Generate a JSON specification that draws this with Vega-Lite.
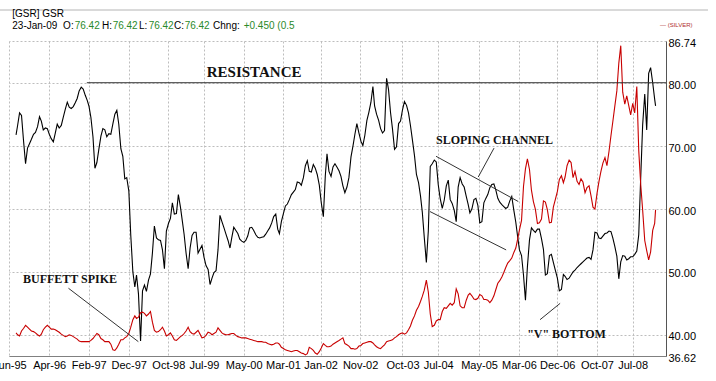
{
  "$schema": "https://vega.github.io/schema/vega-lite/v6.json",
  "width": 657,
  "height": 315,
  "autosize": {"type": "none"},
  "padding": {"left": 9, "top": 41, "right": 50, "bottom": 25},
  "background": "#ffffff",
  "config": {
    "view": {"stroke": null},
    "font": "Liberation Sans",
    "axis": {"labelFont": "Liberation Sans", "labelFontSize": 11, "labelColor": "#000000"}
  },
  "resolve": {"axis": {"x": "independent", "y": "independent"}},
  "datasets": {
    "series": [
      {"date":"1995-08-20","gsr":71.8,"silver":40.3},
      {"date":"1995-09-01","gsr":73.3,"silver":40.0},
      {"date":"1995-09-16","gsr":75.3,"silver":39.8},
      {"date":"1995-10-01","gsr":74.9,"silver":40.6},
      {"date":"1995-10-16","gsr":71.0,"silver":41.0},
      {"date":"1995-11-01","gsr":67.2,"silver":41.5},
      {"date":"1995-11-16","gsr":69.7,"silver":41.2},
      {"date":"1995-12-01","gsr":70.4,"silver":40.9},
      {"date":"1995-12-16","gsr":71.1,"silver":40.6},
      {"date":"1996-01-01","gsr":71.9,"silver":40.5},
      {"date":"1996-01-16","gsr":72.2,"silver":40.3},
      {"date":"1996-02-01","gsr":73.1,"silver":40.0},
      {"date":"1996-02-16","gsr":74.7,"silver":39.8},
      {"date":"1996-03-01","gsr":74.0,"silver":40.1},
      {"date":"1996-03-16","gsr":72.6,"silver":40.8},
      {"date":"1996-04-01","gsr":72.9,"silver":41.2},
      {"date":"1996-04-16","gsr":72.8,"silver":41.5},
      {"date":"1996-05-01","gsr":71.9,"silver":41.2},
      {"date":"1996-05-16","gsr":71.2,"silver":40.9},
      {"date":"1996-06-01","gsr":70.7,"silver":40.9},
      {"date":"1996-06-16","gsr":72.1,"silver":40.8},
      {"date":"1996-07-01","gsr":73.5,"silver":40.6},
      {"date":"1996-07-16","gsr":72.9,"silver":40.4},
      {"date":"1996-08-01","gsr":73.3,"silver":40.1},
      {"date":"1996-08-16","gsr":74.6,"silver":39.9},
      {"date":"1996-09-01","gsr":75.9,"silver":39.7},
      {"date":"1996-09-16","gsr":77.0,"silver":39.8},
      {"date":"1996-10-01","gsr":76.2,"silver":40.0},
      {"date":"1996-10-16","gsr":76.0,"silver":39.9},
      {"date":"1996-11-01","gsr":76.3,"silver":39.7},
      {"date":"1996-11-16","gsr":76.9,"silver":39.5},
      {"date":"1996-12-01","gsr":77.6,"silver":39.3},
      {"date":"1996-12-16","gsr":78.8,"silver":39.0},
      {"date":"1997-01-01","gsr":79.4,"silver":38.9},
      {"date":"1997-01-16","gsr":79.1,"silver":38.9},
      {"date":"1997-02-01","gsr":78.1,"silver":38.9},
      {"date":"1997-02-16","gsr":77.3,"silver":38.9},
      {"date":"1997-03-01","gsr":76.4,"silver":38.9},
      {"date":"1997-03-16","gsr":74.6,"silver":39.1},
      {"date":"1997-04-01","gsr":71.5,"silver":39.4},
      {"date":"1997-04-16","gsr":66.5,"silver":39.8},
      {"date":"1997-05-01","gsr":67.4,"silver":40.2},
      {"date":"1997-05-16","gsr":69.5,"silver":40.0},
      {"date":"1997-06-01","gsr":71.6,"silver":39.4},
      {"date":"1997-06-16","gsr":72.8,"silver":39.2},
      {"date":"1997-07-01","gsr":72.6,"silver":38.9},
      {"date":"1997-07-16","gsr":71.5,"silver":38.9},
      {"date":"1997-08-01","gsr":72.0,"silver":38.9},
      {"date":"1997-08-16","gsr":71.9,"silver":38.5},
      {"date":"1997-09-01","gsr":73.6,"silver":37.6},
      {"date":"1997-09-16","gsr":75.1,"silver":37.5},
      {"date":"1997-10-01","gsr":75.7,"silver":37.9},
      {"date":"1997-10-16","gsr":73.5,"silver":38.5},
      {"date":"1997-11-01","gsr":69.6,"silver":39.2},
      {"date":"1997-11-16","gsr":68.4,"silver":39.2},
      {"date":"1997-12-01","gsr":64.8,"silver":39.5},
      {"date":"1997-12-16","gsr":65.0,"silver":39.7},
      {"date":"1998-01-01","gsr":62.9,"silver":40.2},
      {"date":"1998-01-16","gsr":55.8,"silver":41.2},
      {"date":"1998-02-01","gsr":50.0,"silver":42.4},
      {"date":"1998-02-16","gsr":47.6,"silver":43.0},
      {"date":"1998-03-01","gsr":49.5,"silver":42.6},
      {"date":"1998-03-16","gsr":46.5,"silver":42.8},
      {"date":"1998-04-01","gsr":39.0,"silver":43.5},
      {"date":"1998-04-16","gsr":47.0,"silver":43.6},
      {"date":"1998-05-01","gsr":47.9,"silver":43.4},
      {"date":"1998-05-16","gsr":46.9,"silver":43.0},
      {"date":"1998-06-01","gsr":48.7,"silver":43.3},
      {"date":"1998-06-16","gsr":49.7,"silver":43.7},
      {"date":"1998-07-01","gsr":53.0,"silver":42.0},
      {"date":"1998-07-16","gsr":57.3,"silver":40.7},
      {"date":"1998-08-01","gsr":55.4,"silver":40.4},
      {"date":"1998-08-16","gsr":55.1,"silver":40.5},
      {"date":"1998-09-01","gsr":55.0,"silver":40.8},
      {"date":"1998-09-16","gsr":53.5,"silver":41.2},
      {"date":"1998-10-01","gsr":50.5,"silver":40.6},
      {"date":"1998-10-16","gsr":56.5,"silver":39.8},
      {"date":"1998-11-01","gsr":57.7,"silver":40.0},
      {"date":"1998-11-16","gsr":58.5,"silver":40.3},
      {"date":"1998-12-01","gsr":61.0,"silver":39.8},
      {"date":"1998-12-16","gsr":59.2,"silver":39.2},
      {"date":"1999-01-01","gsr":59.3,"silver":39.1},
      {"date":"1999-01-16","gsr":62.3,"silver":39.4},
      {"date":"1999-02-01","gsr":60.3,"silver":39.7},
      {"date":"1999-02-16","gsr":58.0,"silver":39.9},
      {"date":"1999-03-01","gsr":56.0,"silver":40.2},
      {"date":"1999-03-16","gsr":53.0,"silver":40.6},
      {"date":"1999-04-01","gsr":50.5,"silver":41.2},
      {"date":"1999-04-16","gsr":53.8,"silver":40.5},
      {"date":"1999-05-01","gsr":55.8,"silver":40.2},
      {"date":"1999-05-16","gsr":56.3,"silver":40.1},
      {"date":"1999-06-01","gsr":56.3,"silver":40.4},
      {"date":"1999-06-16","gsr":53.0,"silver":40.7},
      {"date":"1999-07-01","gsr":53.6,"silver":40.1},
      {"date":"1999-07-16","gsr":54.2,"silver":39.5},
      {"date":"1999-08-01","gsr":52.3,"silver":39.6},
      {"date":"1999-08-16","gsr":51.0,"silver":39.9},
      {"date":"1999-09-01","gsr":50.4,"silver":40.4},
      {"date":"1999-09-16","gsr":48.0,"silver":40.3},
      {"date":"1999-10-01","gsr":49.0,"silver":40.0},
      {"date":"1999-10-16","gsr":49.9,"silver":40.2},
      {"date":"1999-11-01","gsr":50.2,"silver":40.4},
      {"date":"1999-11-16","gsr":53.5,"silver":41.1},
      {"date":"1999-12-01","gsr":59.0,"silver":40.7},
      {"date":"1999-12-16","gsr":58.0,"silver":40.3},
      {"date":"2000-01-01","gsr":57.0,"silver":40.1},
      {"date":"2000-01-16","gsr":56.0,"silver":40.0},
      {"date":"2000-02-01","gsr":55.0,"silver":40.0},
      {"date":"2000-02-16","gsr":53.8,"silver":40.1},
      {"date":"2000-03-01","gsr":55.5,"silver":40.2},
      {"date":"2000-03-16","gsr":57.1,"silver":40.2},
      {"date":"2000-04-01","gsr":56.6,"silver":39.9},
      {"date":"2000-04-16","gsr":56.1,"silver":39.7},
      {"date":"2000-05-01","gsr":55.2,"silver":39.6},
      {"date":"2000-05-16","gsr":54.9,"silver":39.5},
      {"date":"2000-06-01","gsr":54.7,"silver":39.5},
      {"date":"2000-06-16","gsr":55.0,"silver":39.5},
      {"date":"2000-07-01","gsr":55.7,"silver":39.4},
      {"date":"2000-07-16","gsr":57.0,"silver":39.3},
      {"date":"2000-08-01","gsr":57.1,"silver":39.2},
      {"date":"2000-08-16","gsr":56.6,"silver":39.1},
      {"date":"2000-09-01","gsr":55.9,"silver":39.0},
      {"date":"2000-09-16","gsr":55.5,"silver":38.9},
      {"date":"2000-10-01","gsr":55.4,"silver":38.9},
      {"date":"2000-10-16","gsr":55.5,"silver":38.9},
      {"date":"2000-11-01","gsr":55.6,"silver":38.8},
      {"date":"2000-11-16","gsr":56.0,"silver":38.8},
      {"date":"2000-12-01","gsr":56.5,"silver":38.6},
      {"date":"2000-12-16","gsr":57.0,"silver":38.5},
      {"date":"2001-01-01","gsr":57.8,"silver":38.4},
      {"date":"2001-01-16","gsr":58.8,"silver":38.5},
      {"date":"2001-02-01","gsr":59.2,"silver":38.7},
      {"date":"2001-02-16","gsr":56.8,"silver":38.7},
      {"date":"2001-03-01","gsr":56.1,"silver":38.5},
      {"date":"2001-03-16","gsr":58.0,"silver":38.0},
      {"date":"2001-04-01","gsr":59.3,"silver":37.8},
      {"date":"2001-04-16","gsr":60.5,"silver":37.6},
      {"date":"2001-05-01","gsr":60.8,"silver":37.5},
      {"date":"2001-05-16","gsr":61.5,"silver":37.4},
      {"date":"2001-06-01","gsr":62.3,"silver":37.3},
      {"date":"2001-06-16","gsr":62.7,"silver":37.4},
      {"date":"2001-07-01","gsr":63.1,"silver":37.5},
      {"date":"2001-07-16","gsr":64.3,"silver":37.5},
      {"date":"2001-08-01","gsr":64.2,"silver":37.3},
      {"date":"2001-08-16","gsr":63.8,"silver":37.1},
      {"date":"2001-09-01","gsr":65.0,"silver":37.0},
      {"date":"2001-09-16","gsr":66.9,"silver":36.8},
      {"date":"2001-10-01","gsr":67.7,"silver":37.0},
      {"date":"2001-10-16","gsr":66.0,"silver":38.0},
      {"date":"2001-11-01","gsr":65.9,"silver":37.8},
      {"date":"2001-11-16","gsr":67.1,"silver":37.5},
      {"date":"2001-12-01","gsr":66.5,"silver":37.1},
      {"date":"2001-12-16","gsr":65.5,"silver":36.9},
      {"date":"2002-01-01","gsr":63.8,"silver":37.3},
      {"date":"2002-01-16","gsr":61.0,"silver":37.9},
      {"date":"2002-02-01","gsr":58.8,"silver":38.6},
      {"date":"2002-02-16","gsr":65.3,"silver":38.3},
      {"date":"2002-03-01","gsr":68.8,"silver":38.1},
      {"date":"2002-03-16","gsr":66.0,"silver":38.1},
      {"date":"2002-04-01","gsr":65.2,"silver":38.2},
      {"date":"2002-04-16","gsr":66.7,"silver":38.5},
      {"date":"2002-05-01","gsr":67.2,"silver":38.7},
      {"date":"2002-05-16","gsr":66.7,"silver":38.9},
      {"date":"2002-06-01","gsr":66.1,"silver":39.1},
      {"date":"2002-06-16","gsr":65.2,"silver":39.3},
      {"date":"2002-07-01","gsr":63.7,"silver":39.5},
      {"date":"2002-07-16","gsr":62.6,"silver":38.6},
      {"date":"2002-08-01","gsr":63.5,"silver":38.4},
      {"date":"2002-08-16","gsr":65.0,"silver":38.2},
      {"date":"2002-09-01","gsr":68.3,"silver":37.8},
      {"date":"2002-09-16","gsr":70.0,"silver":37.8},
      {"date":"2002-10-01","gsr":71.9,"silver":37.7},
      {"date":"2002-10-16","gsr":73.6,"silver":37.8},
      {"date":"2002-11-01","gsr":72.1,"silver":38.2},
      {"date":"2002-11-16","gsr":70.8,"silver":38.3},
      {"date":"2002-12-01","gsr":70.1,"silver":38.6},
      {"date":"2002-12-16","gsr":71.7,"silver":38.7},
      {"date":"2003-01-01","gsr":74.1,"silver":38.8},
      {"date":"2003-01-16","gsr":75.4,"silver":38.9},
      {"date":"2003-02-01","gsr":77.0,"silver":38.9},
      {"date":"2003-02-16","gsr":79.5,"silver":38.7},
      {"date":"2003-03-01","gsr":76.4,"silver":38.4},
      {"date":"2003-03-16","gsr":75.1,"silver":38.1},
      {"date":"2003-04-01","gsr":74.1,"silver":37.9},
      {"date":"2003-04-16","gsr":72.8,"silver":37.8},
      {"date":"2003-05-01","gsr":72.1,"silver":38.1},
      {"date":"2003-05-16","gsr":72.5,"silver":38.4},
      {"date":"2003-06-01","gsr":80.8,"silver":38.9},
      {"date":"2003-06-16","gsr":79.0,"silver":39.0},
      {"date":"2003-07-01","gsr":75.4,"silver":39.1},
      {"date":"2003-07-16","gsr":72.8,"silver":39.2},
      {"date":"2003-08-01","gsr":69.5,"silver":39.5},
      {"date":"2003-08-16","gsr":69.9,"silver":39.7},
      {"date":"2003-09-01","gsr":73.6,"silver":40.0},
      {"date":"2003-09-16","gsr":74.0,"silver":40.2},
      {"date":"2003-10-01","gsr":75.8,"silver":40.3},
      {"date":"2003-10-16","gsr":77.1,"silver":40.1},
      {"date":"2003-11-01","gsr":76.5,"silver":40.3},
      {"date":"2003-11-16","gsr":75.3,"silver":40.8},
      {"date":"2003-12-01","gsr":73.3,"silver":41.4},
      {"date":"2003-12-16","gsr":71.0,"silver":42.3},
      {"date":"2004-01-01","gsr":68.5,"silver":43.0},
      {"date":"2004-01-16","gsr":65.5,"silver":43.9},
      {"date":"2004-02-01","gsr":64.2,"silver":44.5},
      {"date":"2004-02-16","gsr":62.1,"silver":45.3},
      {"date":"2004-03-01","gsr":59.5,"silver":46.1},
      {"date":"2004-03-16","gsr":55.5,"silver":47.1},
      {"date":"2004-04-01","gsr":51.5,"silver":48.7},
      {"date":"2004-04-16","gsr":56.5,"silver":46.8},
      {"date":"2004-05-01","gsr":66.8,"silver":43.3},
      {"date":"2004-05-16","gsr":67.2,"silver":41.3},
      {"date":"2004-06-01","gsr":67.8,"silver":41.5},
      {"date":"2004-06-16","gsr":67.5,"silver":42.2},
      {"date":"2004-07-01","gsr":63.9,"silver":42.4},
      {"date":"2004-07-16","gsr":61.7,"silver":42.4},
      {"date":"2004-08-01","gsr":60.1,"silver":43.7},
      {"date":"2004-08-16","gsr":61.4,"silver":44.3},
      {"date":"2004-09-01","gsr":63.7,"silver":44.2},
      {"date":"2004-09-16","gsr":64.6,"silver":44.6},
      {"date":"2004-10-01","gsr":61.5,"silver":45.0},
      {"date":"2004-10-16","gsr":60.9,"silver":44.7},
      {"date":"2004-11-01","gsr":59.8,"silver":45.1},
      {"date":"2004-11-16","gsr":58.0,"silver":47.3},
      {"date":"2004-12-01","gsr":63.5,"silver":46.5},
      {"date":"2004-12-16","gsr":65.0,"silver":44.6},
      {"date":"2005-01-01","gsr":64.0,"silver":44.3},
      {"date":"2005-01-16","gsr":63.5,"silver":44.3},
      {"date":"2005-02-01","gsr":62.0,"silver":45.5},
      {"date":"2005-02-16","gsr":60.7,"silver":46.3},
      {"date":"2005-03-01","gsr":59.4,"silver":46.6},
      {"date":"2005-03-16","gsr":60.0,"silver":46.2},
      {"date":"2005-04-01","gsr":61.5,"silver":45.7},
      {"date":"2005-04-16","gsr":61.7,"silver":45.6},
      {"date":"2005-05-01","gsr":60.6,"silver":45.8},
      {"date":"2005-05-16","gsr":57.8,"silver":46.4},
      {"date":"2005-06-01","gsr":58.0,"silver":46.2},
      {"date":"2005-06-16","gsr":61.0,"silver":45.6},
      {"date":"2005-07-01","gsr":61.7,"silver":45.6},
      {"date":"2005-07-16","gsr":62.3,"silver":45.5},
      {"date":"2005-08-01","gsr":63.4,"silver":45.1},
      {"date":"2005-08-16","gsr":63.9,"silver":45.5},
      {"date":"2005-09-01","gsr":64.0,"silver":46.2},
      {"date":"2005-09-16","gsr":63.0,"silver":47.2},
      {"date":"2005-10-01","gsr":61.7,"silver":48.2},
      {"date":"2005-10-16","gsr":61.1,"silver":48.6},
      {"date":"2005-11-01","gsr":60.7,"silver":49.2},
      {"date":"2005-11-16","gsr":60.4,"silver":49.9},
      {"date":"2005-12-01","gsr":60.1,"silver":50.7},
      {"date":"2005-12-16","gsr":60.3,"silver":51.4},
      {"date":"2006-01-01","gsr":61.3,"silver":51.8},
      {"date":"2006-01-16","gsr":62.0,"silver":52.2},
      {"date":"2006-02-01","gsr":59.8,"silver":53.1},
      {"date":"2006-02-16","gsr":57.9,"silver":53.8},
      {"date":"2006-03-01","gsr":55.8,"silver":55.1},
      {"date":"2006-03-16","gsr":53.5,"silver":56.7},
      {"date":"2006-04-01","gsr":52.6,"silver":58.2},
      {"date":"2006-04-16","gsr":49.5,"silver":63.6},
      {"date":"2006-05-01","gsr":45.5,"silver":66.4},
      {"date":"2006-05-16","gsr":50.8,"silver":68.0},
      {"date":"2006-06-01","gsr":55.1,"silver":66.3},
      {"date":"2006-06-16","gsr":57.0,"silver":63.0},
      {"date":"2006-07-01","gsr":56.6,"silver":61.2},
      {"date":"2006-07-16","gsr":56.3,"silver":60.0},
      {"date":"2006-08-01","gsr":56.8,"silver":57.7},
      {"date":"2006-08-16","gsr":56.8,"silver":57.8},
      {"date":"2006-09-01","gsr":55.3,"silver":58.4},
      {"date":"2006-09-16","gsr":53.6,"silver":61.3},
      {"date":"2006-10-01","gsr":49.5,"silver":61.1},
      {"date":"2006-10-16","gsr":49.7,"silver":59.9},
      {"date":"2006-11-01","gsr":52.6,"silver":57.8},
      {"date":"2006-11-16","gsr":52.8,"silver":57.9},
      {"date":"2006-12-01","gsr":51.5,"silver":60.3},
      {"date":"2006-12-16","gsr":50.3,"silver":61.5},
      {"date":"2007-01-01","gsr":49.0,"silver":62.8},
      {"date":"2007-01-16","gsr":47.0,"silver":64.7},
      {"date":"2007-02-01","gsr":47.2,"silver":65.3},
      {"date":"2007-02-16","gsr":49.6,"silver":64.2},
      {"date":"2007-03-01","gsr":49.3,"silver":65.1},
      {"date":"2007-03-16","gsr":48.8,"silver":66.9},
      {"date":"2007-04-01","gsr":49.0,"silver":67.8},
      {"date":"2007-04-16","gsr":49.5,"silver":67.4},
      {"date":"2007-05-01","gsr":50.0,"silver":65.0},
      {"date":"2007-05-16","gsr":50.3,"silver":66.0},
      {"date":"2007-06-01","gsr":50.7,"silver":64.4},
      {"date":"2007-06-16","gsr":51.0,"silver":63.9},
      {"date":"2007-07-01","gsr":51.3,"silver":64.8},
      {"date":"2007-07-16","gsr":51.6,"silver":64.3},
      {"date":"2007-08-01","gsr":51.9,"silver":62.6},
      {"date":"2007-08-16","gsr":52.2,"silver":63.4},
      {"date":"2007-09-01","gsr":52.3,"silver":63.7},
      {"date":"2007-09-16","gsr":52.0,"silver":62.1},
      {"date":"2007-10-01","gsr":53.5,"silver":60.3},
      {"date":"2007-10-16","gsr":56.3,"silver":60.0},
      {"date":"2007-11-01","gsr":56.2,"silver":62.5},
      {"date":"2007-11-16","gsr":55.4,"silver":64.4},
      {"date":"2007-12-01","gsr":55.3,"silver":66.0},
      {"date":"2007-12-16","gsr":55.7,"silver":67.3},
      {"date":"2008-01-01","gsr":56.1,"silver":68.2},
      {"date":"2008-01-16","gsr":56.2,"silver":66.9},
      {"date":"2008-02-01","gsr":56.5,"silver":69.2},
      {"date":"2008-02-16","gsr":56.4,"silver":71.7},
      {"date":"2008-03-01","gsr":55.4,"silver":73.9},
      {"date":"2008-03-16","gsr":54.1,"silver":76.3},
      {"date":"2008-04-01","gsr":52.5,"silver":78.8},
      {"date":"2008-04-16","gsr":48.9,"silver":83.2},
      {"date":"2008-05-01","gsr":51.6,"silver":86.0},
      {"date":"2008-05-16","gsr":52.6,"silver":78.6},
      {"date":"2008-06-01","gsr":52.5,"silver":76.7},
      {"date":"2008-06-16","gsr":51.9,"silver":78.0},
      {"date":"2008-07-01","gsr":52.1,"silver":76.5},
      {"date":"2008-07-16","gsr":52.4,"silver":75.0},
      {"date":"2008-08-01","gsr":52.4,"silver":76.8},
      {"date":"2008-08-16","gsr":52.8,"silver":75.3},
      {"date":"2008-09-01","gsr":53.3,"silver":79.5},
      {"date":"2008-09-16","gsr":55.9,"silver":69.3},
      {"date":"2008-10-01","gsr":65.0,"silver":63.9},
      {"date":"2008-10-16","gsr":73.4,"silver":59.8},
      {"date":"2008-11-01","gsr":78.3,"silver":55.0},
      {"date":"2008-11-16","gsr":72.6,"silver":53.4},
      {"date":"2008-12-01","gsr":81.6,"silver":51.9},
      {"date":"2008-12-16","gsr":82.5,"silver":53.2},
      {"date":"2009-01-01","gsr":80.1,"silver":56.6},
      {"date":"2009-01-16","gsr":77.5,"silver":57.7},
      {"date":"2009-01-23","gsr":76.42,"silver":59.9}
    ],
    "segments": [
      {"name":"resistance","date":"1997-02-13","value":80.1,"date2":"2009-04-13","value2":80.1},
      {"name":"channel top","date":"2004-06-14","value":68.4,"date2":"2006-03-07","value2":61.2},
      {"name":"channel bottom","date":"2004-04-29","value":59.6,"date2":"2005-12-04","value2":53.5},
      {"name":"channel pointer","date":"2005-09-02","value":69.7,"date2":"2005-05-04","value2":65.1},
      {"name":"spike pointer","date":"1996-09-25","value":47.4,"date2":"1998-03-15","value2":38.9},
      {"name":"bottom pointer","date":"2006-08-21","value":42.4,"date2":"2007-01-22","value2":45.0}
    ],
    "notes": [
      {"date":"2000-08-19","value":81.08,"text":"RESISTANCE"},
      {"date":"2005-09-06","value":70.3,"text":"SLOPING CHANNEL"},
      {"date":"1996-10-07","value":48.2,"text":"BUFFETT SPIKE"},
      {"date":"2007-03-12","value":39.55,"text":"\"V\" BOTTOM"}
    ],
    "header": [
      {"date":"1995-07-22","value":90.48,"text":"[GSR] GSR","part":"label"},
      {"date":"1995-07-22","value":88.63,"text":"23-Jan-09","part":"label"},
      {"date":"1996-08-15","value":88.63,"text":"O:","part":"label"},
      {"date":"1996-11-12","value":88.63,"text":"76.42","part":"value"},
      {"date":"1997-06-10","value":88.63,"text":"H:","part":"label"},
      {"date":"1997-08-30","value":88.63,"text":"76.42","part":"value"},
      {"date":"1998-03-20","value":88.63,"text":"L:","part":"label"},
      {"date":"1998-06-02","value":88.63,"text":"76.42","part":"value"},
      {"date":"1998-12-14","value":88.63,"text":"C:","part":"label"},
      {"date":"1999-03-05","value":88.63,"text":"76.42","part":"value"},
      {"date":"1999-10-09","value":88.63,"text":"Chng:","part":"label"},
      {"date":"2000-05-31","value":88.63,"text":"+0.450 (0.5","part":"value"}
    ],
    "legend": [
      {"date":"2009-02-26","value":89.27,"text":"— (SILVER)"}
    ],
    "frame": [
      {"date":"1995-04-19","value":91.67,"date2":"2010-03-01"}
    ]
  },
  "layer": [
    {
      "data": {"name": "series"},
      "mark": {"type": "line", "color": "#000000", "strokeWidth": 1.1},
      "encoding": {
        "x": {
          "field": "date", "type": "temporal", "title": null,
          "scale": {"domain": [{"year":1995,"month":6,"date":27},{"year":2009,"month":4,"date":13}]},
          "axis": {
            "values": [
              {"year":1995,"month":6,"date":30},
              {"year":1996,"month":4,"date":30},
              {"year":1997,"month":2,"date":28},
              {"year":1997,"month":12,"date":31},
              {"year":1998,"month":10,"date":31},
              {"year":1999,"month":7,"date":31},
              {"year":2000,"month":5,"date":31},
              {"year":2001,"month":3,"date":28},
              {"year":2002,"month":1,"date":11},
              {"year":2002,"month":11,"date":10},
              {"year":2003,"month":10,"date":1},
              {"year":2004,"month":7,"date":1},
              {"year":2005,"month":5,"date":10},
              {"year":2006,"month":3,"date":12},
              {"year":2006,"month":12,"date":31},
              {"year":2007,"month":10,"date":31},
              {"year":2008,"month":7,"date":31}
            ],
            "format": "%b-%y",
            "labelFlush": false,
            "labelOverlap": false,
            "ticks": false,
            "labelPadding": 3,
            "domainColor": "#808080",
            "grid": true,
            "gridColor": "#bdbdbd",
            "gridDash": [2, 2]
          }
        },
        "y": {
          "field": "gsr", "type": "quantitative", "title": null,
          "scale": {"domain": [36.62, 86.74], "zero": false, "nice": false},
          "axis": {
            "orient": "right",
            "values": [36.62, 40, 50, 60, 70, 80, 86.74],
            "format": ".2f",
            "ticks": false,
            "labelPadding": 2,
            "labelOffset": 2,
            "labelOverlap": false,
            "domainColor": "#555555",
            "grid": true,
            "gridColor": "#bdbdbd",
            "gridDash": [2, 2]
          }
        }
      }
    },
    {
      "data": {"name": "series"},
      "mark": {"type": "line", "color": "#c80000", "strokeWidth": 1.1},
      "encoding": {
        "x": {"field": "date", "type": "temporal", "axis": null,
              "scale": {"domain": [{"year":1995,"month":6,"date":27},{"year":2009,"month":4,"date":13}]}},
        "y": {"field": "silver", "type": "quantitative", "axis": null,
              "scale": {"domain": [36.62, 86.74], "zero": false, "nice": false}}
      }
    },
    {
      "data": {"name": "segments", "format": {"parse": {"date": "date", "date2": "date"}}},
      "mark": {"type": "rule", "color": "#333333", "strokeWidth": 1},
      "encoding": {
        "x": {"field": "date", "type": "temporal", "axis": null,
              "scale": {"domain": [{"year":1995,"month":6,"date":27},{"year":2009,"month":4,"date":13}]}},
        "x2": {"field": "date2"},
        "y": {"field": "value", "type": "quantitative", "axis": null,
              "scale": {"domain": [36.62, 86.74], "zero": false, "nice": false}},
        "y2": {"field": "value2"}
      }
    },
    {
      "data": {"name": "frame", "format": {"parse": {"date": "date", "date2": "date"}}},
      "mark": {"type": "rule", "color": "#b4b4b4", "strokeWidth": 1},
      "encoding": {
        "x": {"field": "date", "type": "temporal", "axis": null,
              "scale": {"domain": [{"year":1995,"month":6,"date":27},{"year":2009,"month":4,"date":13}]}},
        "x2": {"field": "date2"},
        "y": {"field": "value", "type": "quantitative", "axis": null,
              "scale": {"domain": [36.62, 86.74], "zero": false, "nice": false}}
      }
    },
    {
      "data": {"name": "notes"},
      "transform": [{"filter": "datum.text === 'RESISTANCE'"}],
      "mark": {"type": "text", "font": "Liberation Serif", "fontWeight": "bold", "fontSize": 15, "align": "center", "baseline": "alphabetic", "color": "#111111"},
      "encoding": {
        "x": {"field": "date", "type": "temporal", "axis": null,
              "scale": {"domain": [{"year":1995,"month":6,"date":27},{"year":2009,"month":4,"date":13}]}},
        "y": {"field": "value", "type": "quantitative", "axis": null,
              "scale": {"domain": [36.62, 86.74], "zero": false, "nice": false}},
        "text": {"field": "text"}
      }
    },
    {
      "data": {"name": "notes"},
      "transform": [{"filter": "datum.text !== 'RESISTANCE'"}],
      "mark": {"type": "text", "font": "Liberation Serif", "fontWeight": "bold", "fontSize": 12, "align": "center", "baseline": "alphabetic", "color": "#111111"},
      "encoding": {
        "x": {"field": "date", "type": "temporal", "axis": null,
              "scale": {"domain": [{"year":1995,"month":6,"date":27},{"year":2009,"month":4,"date":13}]}},
        "y": {"field": "value", "type": "quantitative", "axis": null,
              "scale": {"domain": [36.62, 86.74], "zero": false, "nice": false}},
        "text": {"field": "text"}
      }
    },
    {
      "data": {"name": "header"},
      "mark": {"type": "text", "font": "Liberation Sans", "fontSize": 10, "align": "left", "baseline": "alphabetic"},
      "encoding": {
        "x": {"field": "date", "type": "temporal", "axis": null,
              "scale": {"domain": [{"year":1995,"month":6,"date":27},{"year":2009,"month":4,"date":13}]}},
        "y": {"field": "value", "type": "quantitative", "axis": null,
              "scale": {"domain": [36.62, 86.74], "zero": false, "nice": false}},
        "text": {"field": "text"},
        "color": {"field": "part", "type": "nominal", "legend": null,
                  "scale": {"domain": ["label", "value"], "range": ["#000000", "#2a8a2a"]}}
      }
    },
    {
      "data": {"name": "legend"},
      "mark": {"type": "text", "font": "Liberation Sans", "fontSize": 6, "align": "left", "baseline": "middle", "color": "#b03030"},
      "encoding": {
        "x": {"field": "date", "type": "temporal", "axis": null,
              "scale": {"domain": [{"year":1995,"month":6,"date":27},{"year":2009,"month":4,"date":13}]}},
        "y": {"field": "value", "type": "quantitative", "axis": null,
              "scale": {"domain": [36.62, 86.74], "zero": false, "nice": false}},
        "text": {"field": "text"}
      }
    }
  ]
}
